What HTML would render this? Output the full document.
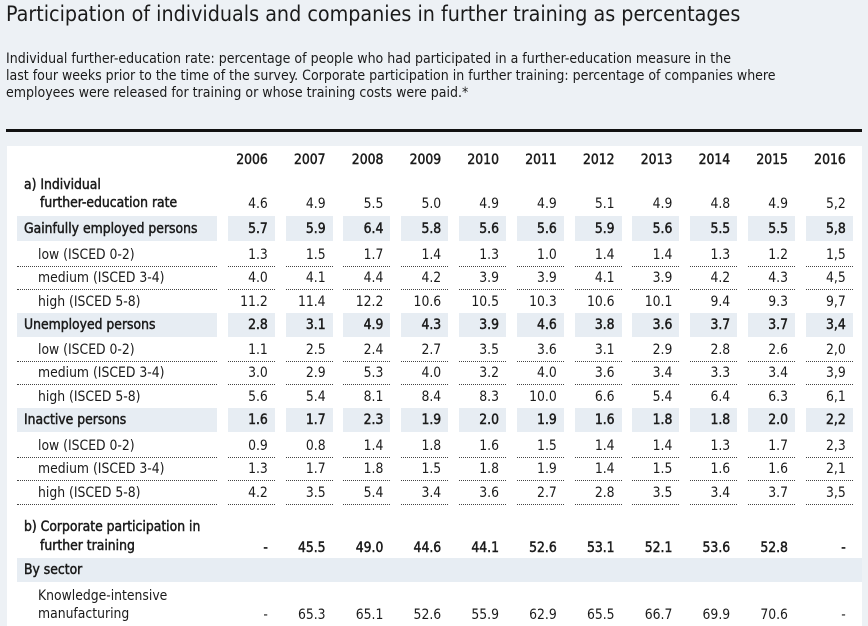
<!DOCTYPE html>
<html><head><meta charset="utf-8"><style>
*{margin:0;padding:0;box-sizing:border-box}
body{width:868px;height:618px;overflow:hidden;background:#edf1f5;font-family:"DejaVu Sans Condensed","Liberation Sans",sans-serif;color:#1b1b1b;position:relative}
.t{position:absolute;left:6px;top:2px;font-size:21.3px;white-space:nowrap}
.d{position:absolute;left:6px;top:51px;font-size:14px;line-height:17px;white-space:nowrap}
.rule{position:absolute;left:6px;top:129px;width:856px;height:3px;background:#111}
.panel{position:absolute;left:7px;top:146px;width:855px;height:480px;background:#fff}
.r{position:absolute;left:17px;display:grid;grid-template-columns:200px repeat(11,47px);column-gap:10.8px;font-size:13.8px}
.r>div{display:flex;align-items:center;justify-content:flex-end;padding-right:7px;white-space:nowrap}
.r>div:first-child{justify-content:flex-start;padding-left:7px}
.b,.s>div,.h>div{-webkit-text-stroke:0.45px #1b1b1b}
.s>div{background:#e7edf3}
.sub>div:first-child{padding-left:21px}
.dt>div{border-bottom:1px dotted #444}
.two>div{align-items:flex-end;padding-bottom:2px}
.bs{position:absolute;left:17px;width:845px;background:#e7edf3;font-size:13.8px;padding-left:7px;display:flex;align-items:center;-webkit-text-stroke:0.45px #1b1b1b}
</style></head><body>
<div class="t">Participation of individuals and companies in further training as percentages</div>
<div class="d">Individual further-education rate: percentage of people who had participated in a further-education measure in the<br>last four weeks prior to the time of the survey. Corporate participation in further training: percentage of companies where<br>employees were released for training or whose training costs were paid.*</div>
<div class="rule"></div>
<div class="panel"></div>

<div class="r h" style="top:150px;height:20px"><div></div><div>2006</div><div>2007</div><div>2008</div><div>2009</div><div>2010</div><div>2011</div><div>2012</div><div>2013</div><div>2014</div><div>2015</div><div>2016</div></div>
<div class="r two" style="top:176px;height:36px"><div class="b" style="display:block;line-height:18px">a) Individual<br><span style="padding-left:16px">further-education rate</span></div><div>4.6</div><div>4.9</div><div>5.5</div><div>5.0</div><div>4.9</div><div>4.9</div><div>5.1</div><div>4.9</div><div>4.8</div><div>4.9</div><div>5,2</div></div>
<div class="r s" style="top:216px;height:25px"><div>Gainfully employed persons</div><div>5.7</div><div>5.9</div><div>6.4</div><div>5.8</div><div>5.6</div><div>5.6</div><div>5.9</div><div>5.6</div><div>5.5</div><div>5.5</div><div>5,8</div></div>
<div class="r sub dt" style="top:244px;height:23px"><div>low (ISCED 0-2)</div><div>1.3</div><div>1.5</div><div>1.7</div><div>1.4</div><div>1.3</div><div>1.0</div><div>1.4</div><div>1.4</div><div>1.3</div><div>1.2</div><div>1,5</div></div>
<div class="r sub dt" style="top:267px;height:23px"><div>medium (ISCED 3-4)</div><div>4.0</div><div>4.1</div><div>4.4</div><div>4.2</div><div>3.9</div><div>3.9</div><div>4.1</div><div>3.9</div><div>4.2</div><div>4.3</div><div>4,5</div></div>
<div class="r sub" style="top:290px;height:23px"><div>high (ISCED 5-8)</div><div>11.2</div><div>11.4</div><div>12.2</div><div>10.6</div><div>10.5</div><div>10.3</div><div>10.6</div><div>10.1</div><div>9.4</div><div>9.3</div><div>9,7</div></div>
<div class="r s" style="top:313px;height:24px"><div>Unemployed persons</div><div>2.8</div><div>3.1</div><div>4.9</div><div>4.3</div><div>3.9</div><div>4.6</div><div>3.8</div><div>3.6</div><div>3.7</div><div>3.7</div><div>3,4</div></div>
<div class="r sub dt" style="top:339px;height:23px"><div>low (ISCED 0-2)</div><div>1.1</div><div>2.5</div><div>2.4</div><div>2.7</div><div>3.5</div><div>3.6</div><div>3.1</div><div>2.9</div><div>2.8</div><div>2.6</div><div>2,0</div></div>
<div class="r sub dt" style="top:362px;height:23px"><div>medium (ISCED 3-4)</div><div>3.0</div><div>2.9</div><div>5.3</div><div>4.0</div><div>3.2</div><div>4.0</div><div>3.6</div><div>3.4</div><div>3.3</div><div>3.4</div><div>3,9</div></div>
<div class="r sub" style="top:385px;height:23px"><div>high (ISCED 5-8)</div><div>5.6</div><div>5.4</div><div>8.1</div><div>8.4</div><div>8.3</div><div>10.0</div><div>6.6</div><div>5.4</div><div>6.4</div><div>6.3</div><div>6,1</div></div>
<div class="r s" style="top:408px;height:24px"><div>Inactive persons</div><div>1.6</div><div>1.7</div><div>2.3</div><div>1.9</div><div>2.0</div><div>1.9</div><div>1.6</div><div>1.8</div><div>1.8</div><div>2.0</div><div>2,2</div></div>
<div class="r sub dt" style="top:435px;height:23px"><div>low (ISCED 0-2)</div><div>0.9</div><div>0.8</div><div>1.4</div><div>1.8</div><div>1.6</div><div>1.5</div><div>1.4</div><div>1.4</div><div>1.3</div><div>1.7</div><div>2,3</div></div>
<div class="r sub dt" style="top:458px;height:23px"><div>medium (ISCED 3-4)</div><div>1.3</div><div>1.7</div><div>1.8</div><div>1.5</div><div>1.8</div><div>1.9</div><div>1.4</div><div>1.5</div><div>1.6</div><div>1.6</div><div>2,1</div></div>
<div class="r sub dt" style="top:481px;height:24px"><div>high (ISCED 5-8)</div><div>4.2</div><div>3.5</div><div>5.4</div><div>3.4</div><div>3.6</div><div>2.7</div><div>2.8</div><div>3.5</div><div>3.4</div><div>3.7</div><div>3,5</div></div>
<div class="r two h" style="top:518px;height:38px"><div style="display:block;line-height:19px">b) Corporate participation in<br><span style="padding-left:16px">further training</span></div><div>-</div><div>45.5</div><div>49.0</div><div>44.6</div><div>44.1</div><div>52.6</div><div>53.1</div><div>52.1</div><div>53.6</div><div>52.8</div><div>-</div></div>
<div class="bs" style="top:558px;height:24px">By sector</div>
<div class="r two" style="top:587px;height:38px"><div style="display:block;line-height:18px;padding-left:21px">Knowledge-intensive<br>manufacturing</div><div>-</div><div>65.3</div><div>65.1</div><div>52.6</div><div>55.9</div><div>62.9</div><div>65.5</div><div>66.7</div><div>69.9</div><div>70.6</div><div>-</div></div>
</body></html>
